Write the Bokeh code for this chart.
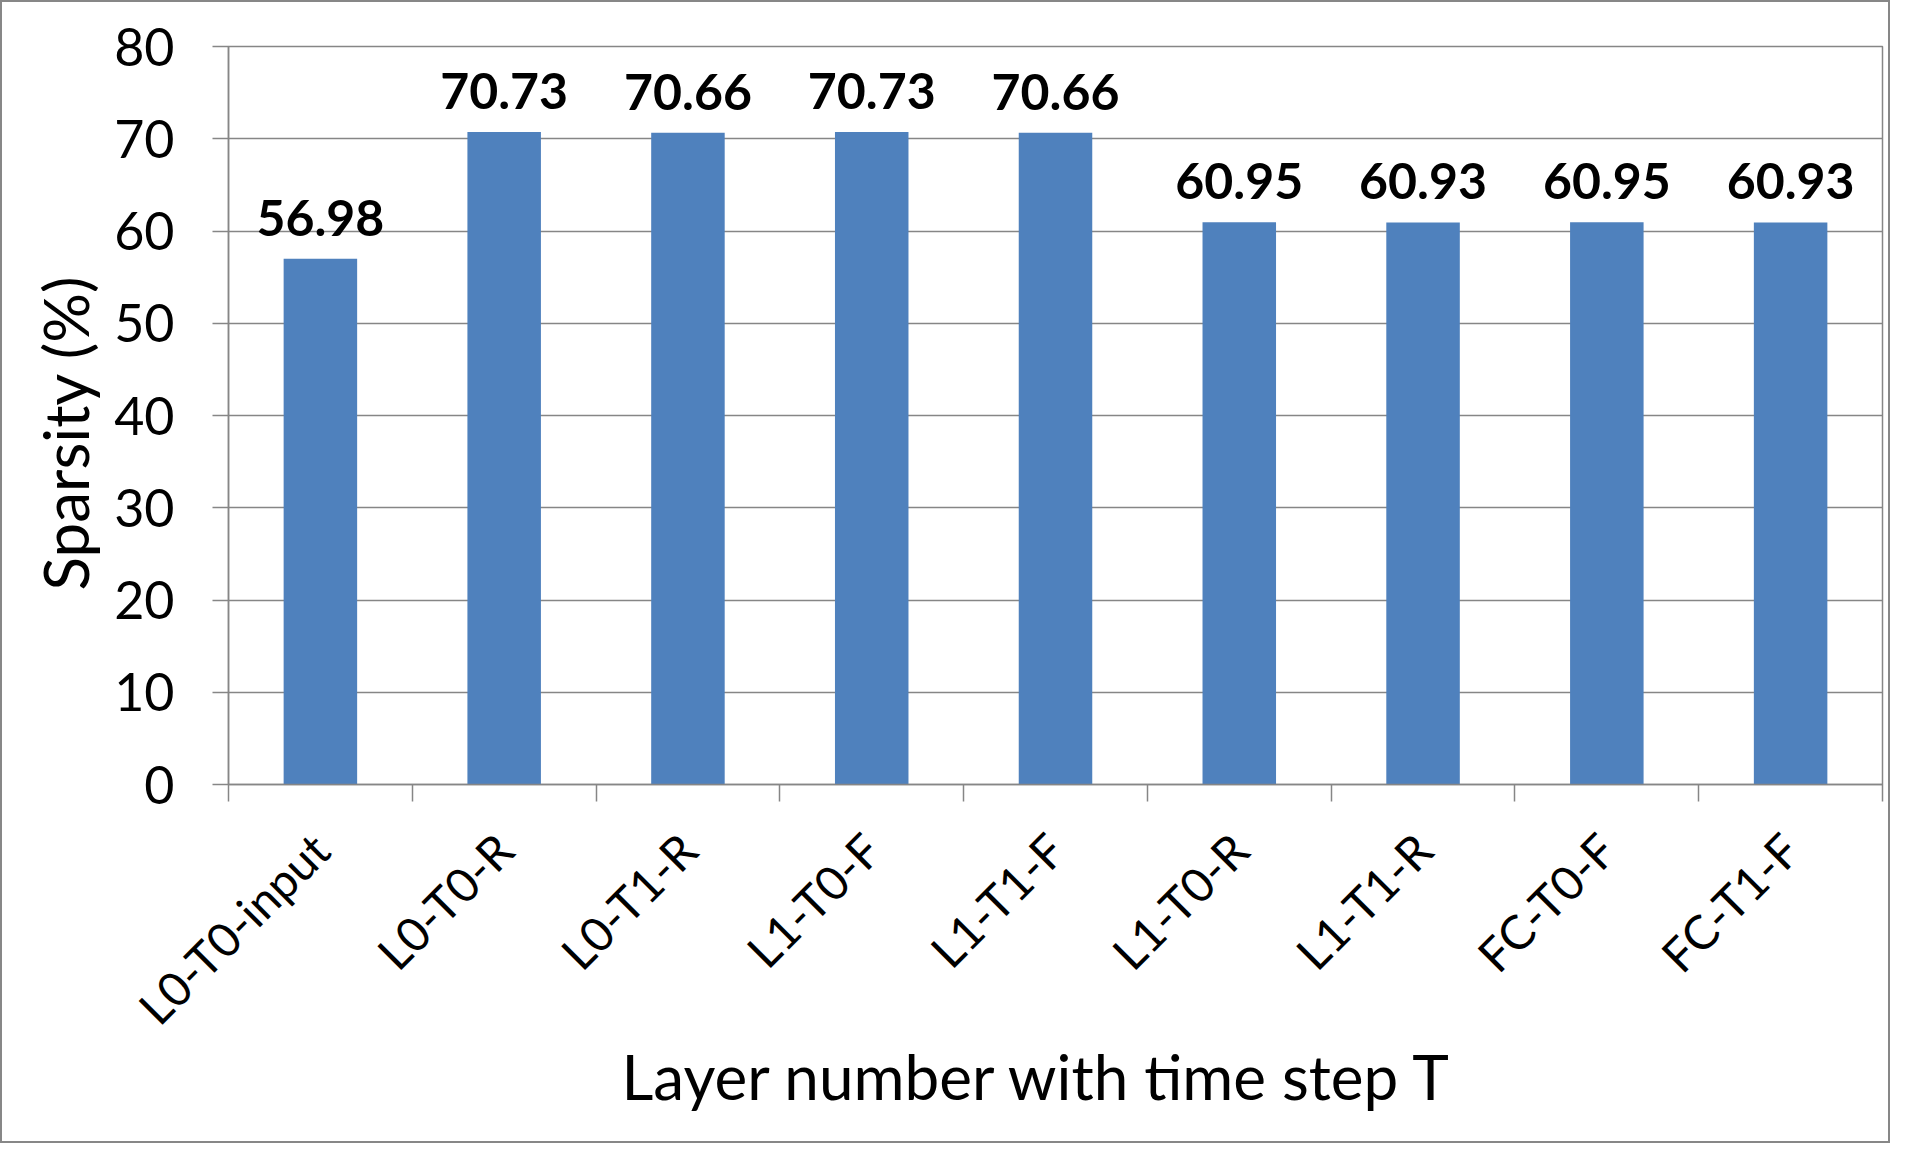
import math
from bokeh.plotting import figure
from bokeh.models import Range1d, FixedTicker, ColumnDataSource, LabelSet, Title
from bokeh.core.properties import value
from bokeh.embed import file_html
from bokeh.resources import INLINE

categories = ["L0-T0-input", "L0-T0-R", "L0-T1-R", "L1-T0-F", "L1-T1-F",
              "L1-T0-R", "L1-T1-R", "FC-T0-F", "FC-T1-F"]
sparsity = [56.98, 70.73, 70.66, 70.73, 70.66, 60.95, 60.93, 60.95, 60.93]
value_labels = ["56.98", "70.73", "70.66", "70.73", "70.66", "60.95", "60.93", "60.95", "60.93"]
y_ticks = [0, 10, 20, 30, 40, 50, 60, 70, 80]
x_title = "Layer number with time step T"
y_title = "Sparsity (%)"

FONT = "Lato"
GRAY = "#868686"
BLUE = "#4F81BD"

centers = [i + 0.5 for i in range(len(categories))]
bounds = list(range(len(categories) + 1))

src = ColumnDataSource(dict(x=centers, top=sparsity, lab=value_labels))

p = figure(width=1890, height=1143, output_backend="svg", toolbar_location=None,
           x_range=Range1d(0, len(categories)), y_range=Range1d(0, 80),
           min_border_left=226, min_border_right=10, min_border_top=44,
           min_border_bottom=361)
p.styles = {"border": "2px solid #878787"}

p.vbar(x="x", top="top", width=0.4, source=src, fill_color=BLUE, line_color=None)

labels = LabelSet(x="x", y="top", text="lab", source=src, text_align="center",
                  text_baseline="alphabetic", y_offset=23,
                  text_font=value(FONT), text_font_style="bold", text_font_size="50px",
                  text_color="black")
p.add_layout(labels)

p.outline_line_color = GRAY
p.outline_line_width = 1.5
p.background_fill_color = "white"
p.border_fill_color = "white"

# y axis
p.yaxis.ticker = FixedTicker(ticks=y_ticks)
p.yaxis.axis_line_color = GRAY
p.yaxis.axis_line_width = 1.5
p.yaxis.major_tick_line_color = GRAY
p.yaxis.major_tick_line_width = 1.5
p.yaxis.major_tick_out = 16
p.yaxis.major_tick_in = 0
p.yaxis.minor_tick_line_color = None
p.yaxis.major_label_text_font = FONT
p.yaxis.major_label_text_font_size = "52px"
p.yaxis.major_label_text_color = "black"
p.yaxis.major_label_standoff = 38

# x axis
p.xaxis.ticker = FixedTicker(ticks=centers, minor_ticks=bounds)
p.xaxis.major_label_overrides = {c: n for c, n in zip(centers, categories)}
p.xaxis.axis_line_color = GRAY
p.xaxis.axis_line_width = 1.5
p.xaxis.major_tick_line_color = None
p.xaxis.major_tick_out = 0
p.xaxis.major_tick_in = 0
p.xaxis.minor_tick_line_color = GRAY
p.xaxis.minor_tick_line_width = 1.5
p.xaxis.minor_tick_out = 17
p.xaxis.minor_tick_in = 0
p.xaxis.major_label_orientation = math.pi / 4
p.xaxis.major_label_text_font = FONT
p.xaxis.major_label_text_font_size = "47px"
p.xaxis.major_label_text_color = "black"
p.xaxis.major_label_standoff = 40

xt = Title(text=x_title, align="left", offset=393, standoff=-42,
           text_font=FONT, text_font_size="62px", text_font_style="normal",
           text_color="black")
p.add_layout(xt, "below")
yt = Title(text=y_title, align="left", offset=194, standoff=20,
           text_font=FONT, text_font_size="62px", text_font_style="normal",
           text_color="black")
p.add_layout(yt, "left")

p.xgrid.grid_line_color = None
p.ygrid.ticker = FixedTicker(ticks=y_ticks)
p.ygrid.grid_line_color = GRAY
p.ygrid.grid_line_width = 1.5

open("out.html", "w").write(file_html(p, INLINE))
